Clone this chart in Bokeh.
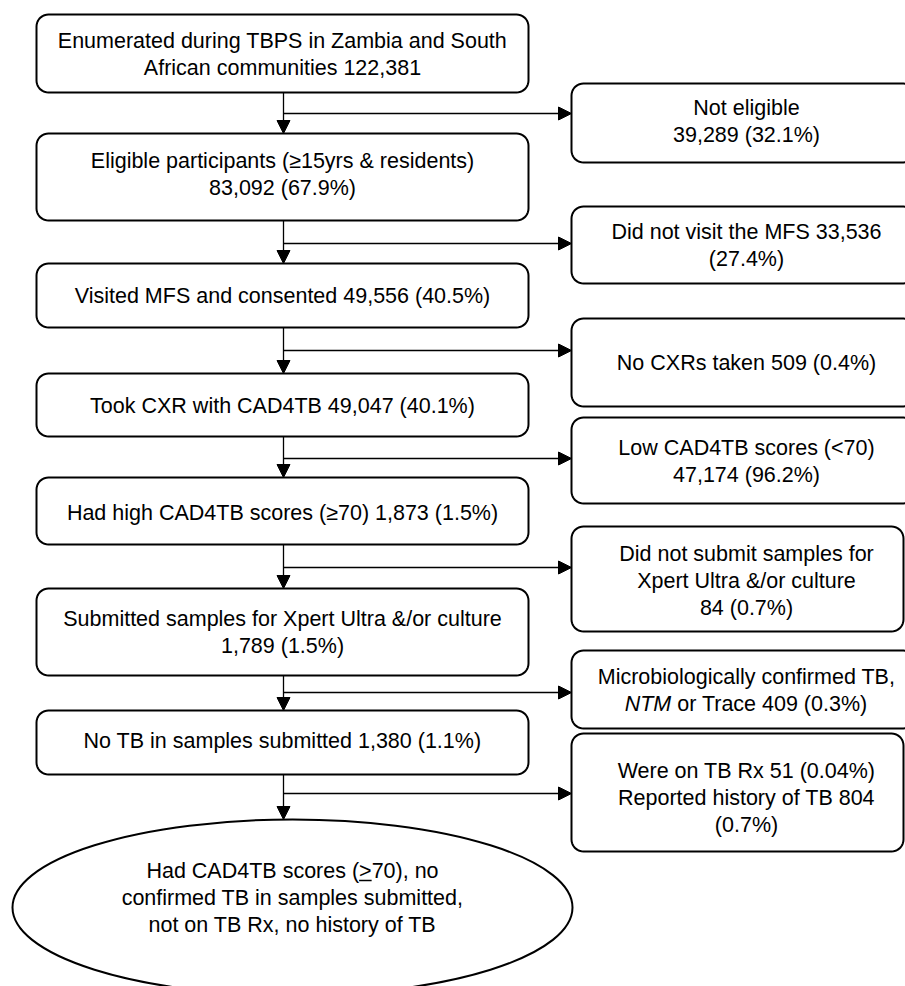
import numpy as np
from bokeh.plotting import figure
from bokeh.models import Range1d, Arrow, NormalHead, ColumnDataSource
from bokeh.core.properties import value
from bokeh.embed import file_html
from bokeh.resources import INLINE

# ---------------- data (texts) ----------------
main_steps = [
    ["Enumerated during TBPS in Zambia and South", "African communities 122,381"],
    ["Eligible participants (\u226515yrs & residents)", "83,092 (67.9%)"],
    ["Visited MFS and consented 49,556 (40.5%)"],
    ["Took CXR with CAD4TB 49,047 (40.1%)"],
    ["Had high CAD4TB scores (\u226570) 1,873 (1.5%)"],
    ["Submitted samples for Xpert Ultra &/or culture", "1,789 (1.5%)"],
    ["No TB in samples submitted 1,380 (1.1%)"],
]
excluded = [
    ["Not eligible", "39,289 (32.1%)"],
    ["Did not visit the MFS 33,536", "(27.4%)"],
    ["No CXRs taken 509 (0.4%)"],
    ["Low CAD4TB scores (<70)", "47,174 (96.2%)"],
    ["Did not submit samples for", "Xpert Ultra &/or culture", "84 (0.7%)"],
    ["Microbiologically confirmed TB,", "NTM| or Trace 409 (0.3%)"],
    ["Were on TB Rx 51 (0.04%)", "Reported history of TB 804", "(0.7%)"],
]
final_step = ["Had CAD4TB scores (>70), no",
              "confirmed TB in samples submitted,",
              "not on TB Rx, no history of TB"]

# ---------------- layout (page pixels) ----------------
W, H = 905, 986
def Y(py):
    return H - py

FS = 21.5
FONT = "Liberation Sans"
LS = 27

L_LEFT, L_RIGHT = 36, 528
L_TOP = [14, 133, 263, 373, 477, 588, 710]
L_BOT = [92, 220, 327, 436, 544, 675, 774]
L_TXT = [53.5, 174, 295, 405, 512, 631.5, 740]
L_TXT_X = 282

R_LEFT = 571
R_RIGHT = [915, 915, 915, 915, 903, 915, 903]
R_TOP = [83, 206, 318, 417, 526, 650, 733]
R_BOT = [162, 283, 406, 503, 631, 728, 851]
R_TXT = [121, 244.5, 362, 460.5, 580, 690, 797]
R_TXT_X = 746

BRANCH = [113, 243, 350, 458, 567, 692, 793]
STEM_X = 283

ELL_X, ELL_Y, ELL_W, ELL_H = 292, 907, 560, 176
ELL_TXT = 897

# Arial / Liberation Sans advance widths (per 1000 em)
AW = {" ": 278, "(": 333, ")": 333, ",": 278, ".": 278, "%": 889, ">": 584,
      "A": 667, "B": 667, "C": 722, "D": 722, "H": 722, "M": 833, "N": 722, "T": 611,
      "a": 556, "c": 500, "d": 556, "e": 556, "n": 556, "o": 556, "r": 333, "s": 500}
def tw(s):
    return sum(AW.get(ch, 556) for ch in s) * FS / 1000.0

def rrect(l, r, t, b, rad=12, n=10):
    xs, ys = [], []
    for cx, cy, a0 in [(r - rad, t - rad, 0), (l + rad, t - rad, 90),
                       (l + rad, b + rad, 180), (r - rad, b + rad, 270)]:
        ang = np.radians(np.linspace(a0, a0 + 90, n))
        xs += list(cx + rad * np.cos(ang))
        ys += list(cy + rad * np.sin(ang))
    return xs, ys

p = figure(width=W, height=H, x_range=Range1d(0, W), y_range=Range1d(0, H),
           output_backend="svg", toolbar_location=None, min_border=0,
           x_axis_location=None, y_axis_location=None)
p.xgrid.visible = False
p.ygrid.visible = False
p.outline_line_color = None
p.background_fill_color = "white"
p.border_fill_color = "white"

# boxes
bx, by = [], []
for t, b in zip(L_TOP, L_BOT):
    xs, ys = rrect(L_LEFT, L_RIGHT, Y(t), Y(b))
    bx.append(xs); by.append(ys)
for t, b, r in zip(R_TOP, R_BOT, R_RIGHT):
    xs, ys = rrect(R_LEFT, r, Y(t), Y(b))
    bx.append(xs); by.append(ys)
p.patches(bx, by, fill_color="white", line_color="black", line_width=2)

p.ellipse(x=[ELL_X], y=[Y(ELL_Y)], width=[ELL_W], height=[ELL_H],
          fill_color="white", line_color="black", line_width=2)

# connectors
stem_y0 = L_BOT
stem_y1 = L_TOP[1:] + [ELL_Y - ELL_H / 2]
src_v = ColumnDataSource(dict(x0=[STEM_X] * 7, y0=[Y(v) for v in stem_y0],
                              x1=[STEM_X] * 7, y1=[Y(v) for v in stem_y1]))
src_h = ColumnDataSource(dict(x0=[STEM_X] * 7, y0=[Y(v) for v in BRANCH],
                              x1=[R_LEFT] * 7, y1=[Y(v) for v in BRANCH]))
for src in (src_v, src_h):
    p.add_layout(Arrow(end=NormalHead(size=13, fill_color="black", line_color="black", line_width=1),
                       x_start="x0", y_start="y0", x_end="x1", y_end="y1",
                       line_width=1.3, line_color="black", source=src))

# texts
tx, ty, tt = [], [], []
itx, ity, itt = [], [], []
lx, ly, lt = [], [], []
def place(lines, cx, cy):
    n = len(lines)
    for i, line in enumerate(lines):
        yy = cy + (i - (n - 1) / 2) * LS
        if "|" in line:
            a, b = line.split("|")
            start = cx - (tw(a) + tw(b)) / 2
            itx.append(start); ity.append(Y(yy)); itt.append(a)
            lx.append(start + tw(a) + tw(" ")); ly.append(Y(yy)); lt.append(b.lstrip())
        else:
            tx.append(cx); ty.append(Y(yy)); tt.append(line)

for lines, cy in zip(main_steps, L_TXT):
    place(lines, L_TXT_X, cy)
for lines, cy in zip(excluded, R_TXT):
    place(lines, R_TXT_X, cy)
place(final_step, ELL_X, ELL_TXT)

common = dict(text_baseline="middle", text_font=value(FONT), text_font_size=f"{FS}px",
              text_color="black")
p.text(x=tx, y=ty, text=tt, text_align="center", **common)
p.text(x=lx, y=ly, text=lt, text_align="left", **common)
p.text(x=itx, y=ity, text=itt, text_align="left", text_font_style="italic", **common)

# underline of ">" in the final step
l0 = final_step[0]
y0 = ELL_TXT - LS
start = ELL_X - tw(l0) / 2
k = l0.index(">")
ux0 = start + tw(l0[:k])
ux1 = ux0 + tw(">")
p.line(x=[ux0, ux1], y=[Y(y0 + 10), Y(y0 + 10)], line_color="black", line_width=1.5)

open("out.html", "w").write(file_html(p, INLINE))
